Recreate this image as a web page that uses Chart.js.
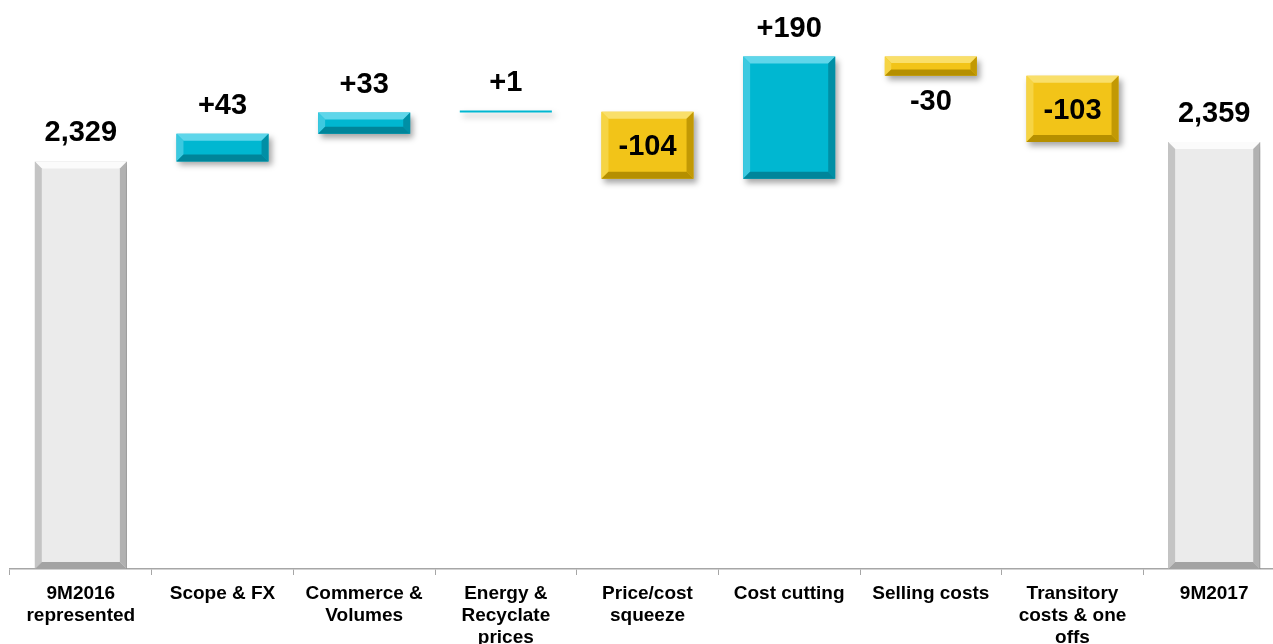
<!DOCTYPE html>
<html>
<head>
<meta charset="utf-8">
<script src="https://cdn.jsdelivr.net/npm/chart.js@4.4.1/dist/chart.umd.min.js"></script>
<style>
  html, body { margin: 0; padding: 0; background: #fff; overflow: hidden; }
  canvas { display: block; }
</style>
</head>
<body>
<canvas id="waterfall" width="1290" height="644"></canvas>
<script>
// data
const categories = [
  ['9M2016', 'represented'],
  ['Scope & FX'],
  ['Commerce &', 'Volumes'],
  ['Energy &', 'Recyclate', 'prices'],
  ['Price/cost', 'squeeze'],
  ['Cost cutting'],
  ['Selling costs'],
  ['Transitory', 'costs & one', 'offs'],
  ['9M2017']
];
const startTotal = 2329;
const endTotal = 2359;
const deltas = [43, 33, 1, -104, 190, -30, -103];

const yMin = 1695;
const yMax = 2580;

// build floating bars [from, to]
let bars = [[yMin, startTotal]];
let kinds = ['total'];
let labels = [startTotal.toLocaleString('en-US')];
let running = startTotal;
for (let i = 0; i < deltas.length; i++) {
  let next = running + deltas[i];
  bars.push([running, next]);
  kinds.push(deltas[i] >= 0 ? 'up' : 'down');
  labels.push((deltas[i] >= 0 ? '+' : '-') + Math.abs(deltas[i]));
  running = next;
}
bars.push([yMin, endTotal]);
kinds.push('total');
labels.push(endTotal.toLocaleString('en-US'));

const faceColors = { total: '#ebebeb', up: '#00b7d1', down: '#f2c418' };
const lightEdge = { total: '#fbfbfb', up: '#5fd6ea', down: '#f9df6a' };
const sideEdge = { total: '#c4c4c4', up: '#3cc9e0', down: '#f6d444' };
const darkEdge = { total: '#a3a3a3', up: '#00859a', down: '#b58f00' };

const bevelPlugin = {
  id: 'bevel',
  beforeDatasetDraw(chart) {
    const ctx = chart.ctx;
    ctx.save();
    ctx.shadowColor = 'rgba(0,0,0,0.35)';
    ctx.shadowBlur = 6;
    ctx.shadowOffsetX = 3;
    ctx.shadowOffsetY = 4;
  },
  afterDatasetDraw(chart) {
    const ctx = chart.ctx;
    ctx.restore();
    const meta = chart.getDatasetMeta(0);
    meta.data.forEach(function (bar, i) {
      const left = bar.x - bar.width / 2;
      const right = bar.x + bar.width / 2;
      const top = Math.min(bar.y, bar.base);
      const bottom = Math.max(bar.y, bar.base);
      const h = bottom - top;
      if (h < 6) return;
      const b = Math.min(7, h / 3);
      const k = kinds[i];
      ctx.save();
      // top
      ctx.fillStyle = lightEdge[k];
      ctx.beginPath();
      ctx.moveTo(left, top); ctx.lineTo(right, top);
      ctx.lineTo(right - b, top + b); ctx.lineTo(left + b, top + b);
      ctx.closePath(); ctx.fill();
      // left
      ctx.fillStyle = sideEdge[k];
      ctx.beginPath();
      ctx.moveTo(left, top); ctx.lineTo(left + b, top + b);
      ctx.lineTo(left + b, bottom - b); ctx.lineTo(left, bottom);
      ctx.closePath(); ctx.fill();
      // right
      ctx.globalAlpha = 0.8;
      ctx.fillStyle = darkEdge[k];
      ctx.beginPath();
      ctx.moveTo(right, top); ctx.lineTo(right - b, top + b);
      ctx.lineTo(right - b, bottom - b); ctx.lineTo(right, bottom);
      ctx.closePath(); ctx.fill();
      // bottom
      ctx.globalAlpha = 1;
      ctx.beginPath();
      ctx.moveTo(left, bottom); ctx.lineTo(left + b, bottom - b);
      ctx.lineTo(right - b, bottom - b); ctx.lineTo(right, bottom);
      ctx.closePath(); ctx.fill();
      ctx.restore();
    });
  },
  afterDraw(chart) {
    const ctx = chart.ctx;
    const meta = chart.getDatasetMeta(0);
    ctx.save();
    ctx.font = 'bold 29px "Liberation Sans", Arial, sans-serif';
    ctx.fillStyle = '#000';
    ctx.textAlign = 'center';
    meta.data.forEach(function (bar, i) {
      const top = Math.min(bar.y, bar.base);
      const bottom = Math.max(bar.y, bar.base);
      const h = bottom - top;
      if (kinds[i] === 'down') {
        if (h > 45) {
          ctx.textBaseline = 'middle';
          ctx.fillText(labels[i], bar.x, (top + bottom) / 2 + 2);
        } else {
          ctx.textBaseline = 'alphabetic';
          ctx.fillText(labels[i], bar.x, bottom + 34);
        }
      } else {
        ctx.textBaseline = 'alphabetic';
        ctx.fillText(labels[i], bar.x, top - 20);
      }
    });
    ctx.restore();
  }
};

new Chart('waterfall', {
  type: 'bar',
  data: {
    labels: categories,
    datasets: [{
      data: bars,
      backgroundColor: kinds.map(function (k) { return faceColors[k]; }),
      borderColor: kinds.map(function (k) { return k === 'total' ? '#b5b5b5' : faceColors[k]; }),
      borderWidth: kinds.map(function (k) { return k === 'total' ? 1 : 0; }),
      borderSkipped: false,
      barPercentage: 0.65,
      categoryPercentage: 1.0,
      minBarLength: 2
    }]
  },
  options: {
    responsive: false,
    animation: false,
    devicePixelRatio: 1,
    layout: { padding: { left: 10, right: 5, top: 0, bottom: 0 } },
    plugins: {
      legend: { display: false },
      tooltip: { enabled: false }
    },
    scales: {
      y: {
        display: false,
        min: yMin,
        max: yMax
      },
      x: {
        afterFit: function (scale) { scale.height = 75; },
        border: { display: true, color: '#a6a6a6', width: 1.5 },
        grid: {
          display: true,
          drawOnChartArea: false,
          drawTicks: true,
          tickLength: 6,
          color: '#a6a6a6',
          offset: true
        },
        ticks: {
          color: '#000',
          padding: 8,
          maxRotation: 0,
          autoSkip: false,
          font: { family: '"Liberation Sans", Arial, sans-serif', size: 19, weight: 'bold', lineHeight: 1.16 }
        }
      }
    }
  },
  plugins: [bevelPlugin]
});
</script>
</body>
</html>
